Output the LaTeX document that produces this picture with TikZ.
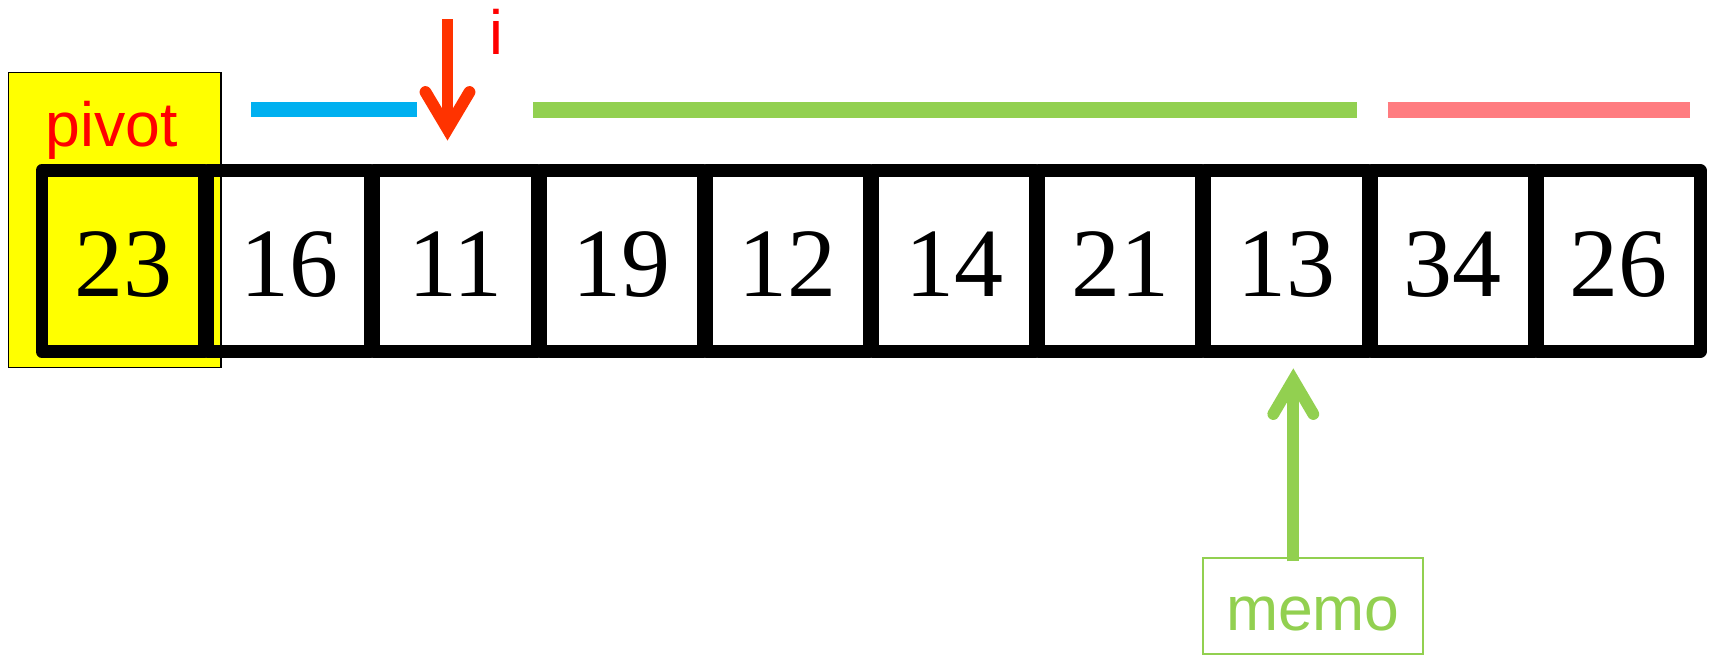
\documentclass[tikz,border=0pt]{standalone}
\usepackage{fontspec}
\setmainfont{Liberation Serif}
\newfontfamily\arialfont{Liberation Sans}
\definecolor{pivyellow}{HTML}{FFFF00}
\definecolor{txtred}{HTML}{FF0000}
\definecolor{arrred}{HTML}{FF3300}
\definecolor{barblue}{HTML}{00B0F0}
\definecolor{bargreen}{HTML}{92D050}
\definecolor{barpink}{HTML}{FF7C80}
\begin{document}
\begin{tikzpicture}[x=0.5pt,y=-0.5pt,
  cell/.style={draw=black, line width=6.25pt, line join=round, minimum width=81.35pt,
    minimum height=90.5pt, inner sep=0pt, text height=35.3pt, text depth=0pt,
    font=\fontsize{49}{49}\selectfont},
  pivotbox/.style={draw=black, line width=0.75pt, fill=pivyellow, minimum width=106.2pt,
    minimum height=147.5pt, inner sep=0pt},
  lbl/.style={font=\arialfont\fontsize{31.25}{31.25}\selectfont, inner sep=0pt},
  bar/.style={line width=7.8pt},
  shaft/.style={line width=5.9pt},
  head/.style={line width=5.9pt, line cap=round, line join=miter},
  memobox/.style={lbl, draw=bargreen, line width=0.75pt, minimum width=109.85pt,
    minimum height=48pt, text height=24pt, text depth=0pt, text=bargreen}
]
\useasboundingbox (0,0) rectangle (1710,655);
% pivot highlight box
\node[pivotbox] (pbox) at (114.8,219.8) {};
% array cells
\foreach \v [count=\k] in {23,16,11,19,12,14,21,13,34,26}
  \node[cell] (c\k) at ({40+166.2*(\k-0.5)},261) {\v};
% labels
\node[lbl, text=txtred, anchor=base] (plabel) at (112,146) {pivot};
\node[lbl, text=txtred, anchor=base] (ilabel) at (496,54) {i};
% range bars
\draw[bar, barblue] (251,109.5) -- (417,109.5);
\draw[bar, bargreen] (533,110) -- (1357,110);
\draw[bar, barpink] (1387.5,110) -- (1690,110);
% i arrow
\coordinate (itop) at (447.5,19);
\coordinate (itip) at (447.5,129);
\draw[shaft, arrred] (itop) -- (itip);
\draw[head, arrred] (itip) ++(-22,-37) -- (itip) -- ++(22,-37);
% memo
\node[memobox] (memo) at (1312.9,606.2) {memo};
\coordinate (mtip) at (1293.3,380);
\draw[shaft, bargreen] (mtip |- memo.north) ++(0,4) -- (mtip);
\draw[head, bargreen] (mtip) ++(-20,34) -- (mtip) -- ++(20,34);
\end{tikzpicture}
\end{document}
